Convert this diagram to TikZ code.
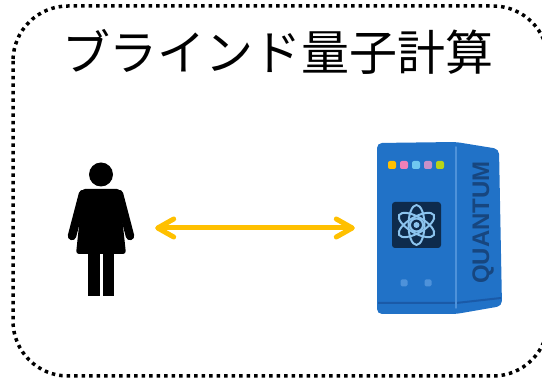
\documentclass[tikz,border=0pt]{standalone}
\usepackage{fontspec}
\newfontfamily\jpfont{Noto Sans CJK JP}
\newfontfamily\labelfont{Liberation Sans}
\usepackage{tikz}
\usetikzlibrary{arrows.meta, positioning}
\definecolor{qblue}{HTML}{2172C7}
\definecolor{qdark}{HTML}{1A5AA8}
\definecolor{qlight}{HTML}{4E92DA}
\definecolor{qnavy}{HTML}{0E2B4C}
\definecolor{qorbit}{HTML}{8CC4EE}
\definecolor{qtext}{HTML}{17467F}
\definecolor{qyellow}{HTML}{FFC000}
\tikzstyle{frame} = [line width=3.5pt, dash pattern=on 3.5pt off 4pt, rounded corners=55pt]
\tikzstyle{arrow} = [line width=5pt, draw=qyellow,
{Straight Barb[length=16pt, width=18pt, round]}-{Straight Barb[length=16pt, width=18pt, round]}]
\tikzstyle{lamp} = [rectangle, rounded corners=2pt, minimum size=8pt, inner sep=0pt]
\tikzstyle{port} = [rectangle, rounded corners=1.5pt, minimum size=7pt, inner sep=0pt, fill=qlight]
\tikzstyle{orbit} = [draw=qorbit, line width=2pt]

\begin{document}
\begin{tikzpicture}[x=1pt, y=-1pt]

      \useasboundingbox (0,0) rectangle (542,379);
      \clip (0,0) rectangle (542,379);

      \draw [frame] (13,6) rectangle (548,376);

      \node (T) at (278,52) {\jpfont\fontsize{48}{50}\selectfont ブラインド量子計算};

      % person
      \node (USER) [minimum width=64pt, minimum height=136pt, inner sep=0pt] at (101,228) {};
      \fill (101,174.5) circle (12);
      \fill [rounded corners=3pt] (82,189) -- (120,189) -- (121,207) -- (126,254)
            -- (76,254) -- (81,207) -- cycle;
      \draw [line width=8.5pt, line cap=round] (83,194) -- (72,236);
      \draw [line width=8.5pt, line cap=round] (119,194) -- (130,236);
      \fill (88,250) rectangle (99.5,296);
      \fill (102.5,250) rectangle (114,296);

      % quantum computer
      \node (QC) [minimum width=125pt, minimum height=170pt, inner sep=0pt] at (439.5,228) {};
      \fill [qblue, rounded corners=5pt] (377,143) -- (456,142) -- (499,149) -- (502,306)
            -- (456,314) -- (377,314) -- cycle;
      \draw [qdark, line width=2pt] (378,303) -- (456,303) -- (501,298);
      \draw [qlight, line width=1.5pt, line cap=round] (456,147) -- (456,308);
      \node [lamp, fill=qyellow] at (392,165) {};
      \node [lamp, fill={rgb,255:red,240;green,128;blue,184}] at (404,165) {};
      \node [lamp, fill={rgb,255:red,112;green,200;blue,240}] at (416,165) {};
      \node [lamp, fill={rgb,255:red,200;green,144;blue,200}] at (428,165) {};
      \node [lamp, fill={rgb,255:red,184;green,212;blue,24}] at (440,165) {};
      \fill [qnavy, rounded corners=3pt] (392,202) rectangle (441,248);
      \draw [orbit] (416.5,225) ellipse [x radius=8, y radius=20];
      \draw [orbit, rotate around={60:(416.5,225)}] (416.5,225) ellipse [x radius=8, y radius=20];
      \draw [orbit, rotate around={-60:(416.5,225)}] (416.5,225) ellipse [x radius=8, y radius=20];
      \draw [orbit] (416.5,225) circle (6.5);
      \fill [qorbit] (416.5,225) circle (3);
      \node [port] at (404,283) {};
      \node [port] at (428,283) {};
      \node [rotate=90, text=qtext] at (483,222.5) {\labelfont\bfseries\fontsize{24}{24}\selectfont QUANTUM};

      \draw [arrow, shorten <=22pt, shorten >=22pt] (USER.east) -- (QC.west);

  \end{tikzpicture}
\end{document}
